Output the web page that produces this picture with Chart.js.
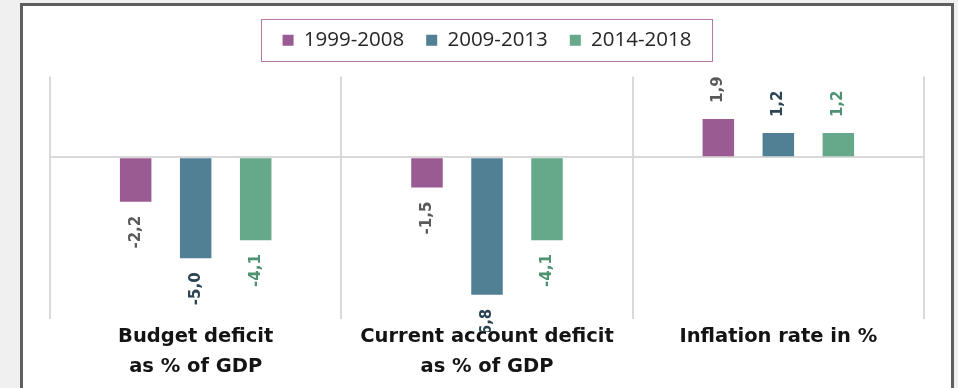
<!DOCTYPE html>
<html>
<head>
<meta charset="utf-8">
<script src="https://cdn.jsdelivr.net/npm/chart.js@4.4.1/dist/chart.umd.min.js"></script>
<style>
  html, body { margin: 0; padding: 0; background: #eff0ef; }
  #wrap { position: relative; width: 958px; height: 388px; overflow: hidden; }
  #frame {
    position: absolute; left: 20px; top: 3px; width: 928px; height: 400px;
    border: 3px solid #5e5e5e; border-bottom: none; background: #fff;
  }
  #chart { position: absolute; left: 0; top: 0; }
</style>
</head>
<body>
<div id="wrap">
  <div id="frame"></div>
  <canvas id="chart" width="958" height="388"></canvas>
</div>
<script>
const categories = [
  ['Budget deficit', 'as % of GDP'],
  ['Current account deficit', 'as % of GDP'],
  'Inflation rate in %'
];
const periods = ['1999-2008', '2009-2013', '2014-2018'];
const values1999 = [-2.2, -1.5, 1.9];
const values2009 = [-5.0, -6.8, 1.2];
const values2014 = [-4.1, -4.1, 1.2];

const barColors = ['#9a5b92', '#517f94', '#66a98a'];
const labelColors = ['#595959', '#2b4352', '#4f9272'];

// rotated value labels next to the bar ends, cut off just under the plot
const valueLabels = {
    id: 'valueLabels',
    afterDatasetsDraw(chart) {
        const ctx = chart.ctx;
        const area = chart.chartArea;
        ctx.save();
        ctx.beginPath();
        ctx.rect(0, 0, chart.width, area.bottom + 13);
        ctx.clip();
        ctx.font = 'bold 15px "DejaVu Sans"';
        ctx.textBaseline = 'middle';
        chart.data.datasets.forEach((ds, i) => {
            chart.getDatasetMeta(i).data.forEach((bar, j) => {
                const v = ds.data[j];
                const text = v.toFixed(1).replace('.', ',');
                ctx.save();
                ctx.translate(bar.x, v < 0 ? bar.y + 14 : bar.y - 16);
                ctx.rotate(-Math.PI / 2);
                ctx.textAlign = v < 0 ? 'right' : 'left';
                ctx.fillStyle = labelColors[i];
                ctx.fillText(text, 0, 0);
                ctx.restore();
            });
        });
        ctx.restore();
    }
};

// extra room under the legend, plus a thin frame around it
const legendFrame = {
    id: 'legendFrame',
    beforeInit(chart) {
        const fit = chart.legend.fit;
        chart.legend.fit = function () {
            fit.call(this);
            this.height += 16;
        };
    },
    afterDraw(chart) {
        const boxes = chart.legend.legendHitBoxes;
        if (!boxes || !boxes.length) return;
        const first = boxes[0];
        const last = boxes[boxes.length - 1];
        const mid = first.top + first.height / 2;
        const ctx = chart.ctx;
        ctx.save();
        ctx.strokeStyle = '#b47aae';
        ctx.lineWidth = 1;
        ctx.strokeRect(Math.round(first.left - 22) + 0.5, Math.round(mid - 21) + 0.5,
            Math.round(last.left + last.width + 20 - (first.left - 22)), 42);
        ctx.restore();
    }
};

let ctx = document.getElementById('chart').getContext('2d');
let chart = new Chart(ctx, {
    type: 'bar',
    data: {
        labels: categories,
        datasets: [
            { label: periods[0], data: values1999, backgroundColor: barColors[0] },
            { label: periods[1], data: values2009, backgroundColor: barColors[1] },
            { label: periods[2], data: values2014, backgroundColor: barColors[2] }
        ].map(ds => Object.assign(ds, { borderWidth: 0, categoryPercentage: 0.618, barPercentage: 0.525 }))
    },
    options: {
        responsive: false,
        animation: false,
        layout: { padding: { left: 50, right: 34, top: 8, bottom: 3 } },
        plugins: {
            tooltip: { enabled: false },
            legend: {
                position: 'top',
                labels: {
                    boxWidth: 11,
                    boxHeight: 11,
                    padding: 22,
                    color: '#262626',
                    font: { family: '"Open Sans"', size: 20.5 }
                }
            }
        },
        scales: {
            x: {
                grid: { offset: true, color: '#d9d9d9', lineWidth: 2, drawTicks: false },
                border: { display: false },
                ticks: {
                    autoSkip: false,
                    maxRotation: 0,
                    padding: 3,
                    color: '#141414',
                    font: { family: '"DejaVu Sans"', weight: 'bold', size: 19.5, lineHeight: 1.54 }
                }
            },
            y: {
                min: -8,
                max: 4,
                ticks: { display: false, stepSize: 2 },
                grid: {
                    color: c => c.tick.value === 0 ? '#d9d9d9' : 'rgba(0,0,0,0)',
                    lineWidth: 2,
                    drawTicks: false
                },
                border: { display: false }
            }
        }
    },
    plugins: [valueLabels, legendFrame]
});
</script>
</body>
</html>
